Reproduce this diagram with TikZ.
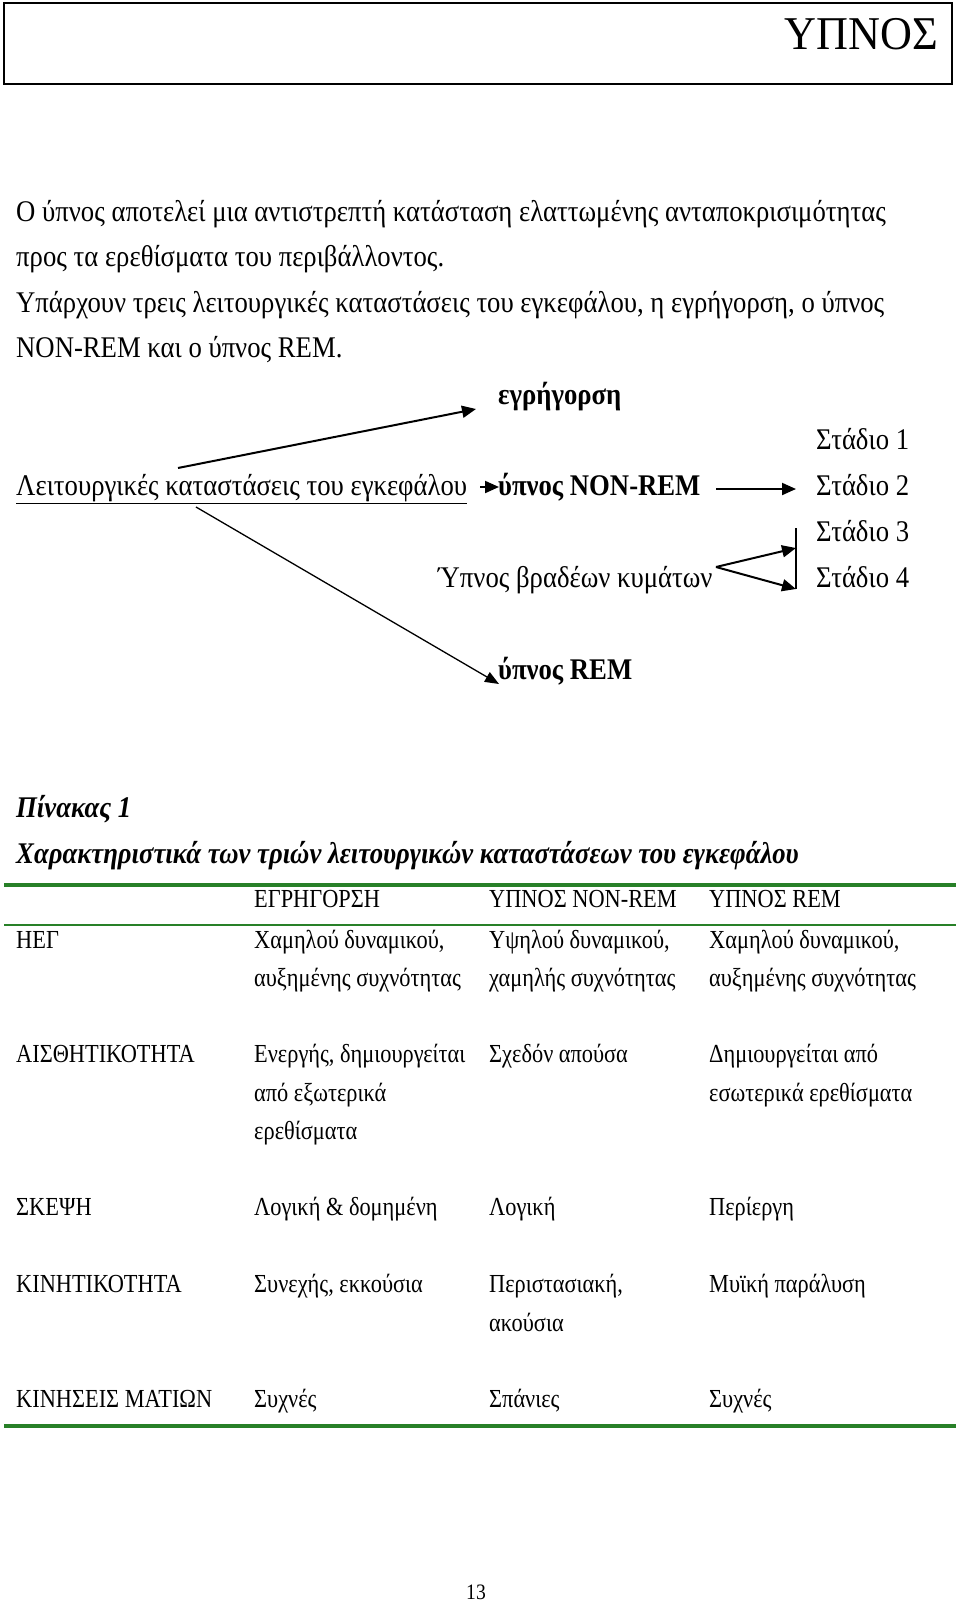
\documentclass[tikz,border=0pt]{standalone}
\usepackage{fontspec}
\setmainfont{Liberation Serif}[FakeStretch=0.89]
\newfontfamily\tabfont{Liberation Serif}[FakeStretch=0.86]
\newfontfamily\titlefont{Liberation Serif}[FakeStretch=0.94]
\usetikzlibrary{arrows.meta}
\definecolor{tgreen}{RGB}{40,128,40}
\begin{document}
\begin{tikzpicture}[x=1pt,y=-1pt,
  txt/.style={anchor=base west,inner sep=0pt,font=\fontsize{30}{36}\selectfont},
  btxt/.style={txt,font=\fontsize{30}{36}\selectfont\bfseries},
  bitxt/.style={txt,font=\fontsize{30}{36}\selectfont\bfseries\itshape},
  ttxt/.style={anchor=base west,inner sep=0pt,font=\tabfont\fontsize{26}{30}\selectfont},
  arr/.style={-{Triangle[length=14pt,width=12pt]},line width=2pt},
  tarr/.style={-{Triangle[length=14pt,width=11pt]},line width=1.3pt},
  gthick/.style={tgreen,line width=4pt},
  gthin/.style={tgreen,line width=2pt}]
\useasboundingbox (0,0) rectangle (960,1603);
% header
\draw[line width=1.5pt] (4,3) rectangle (952,84);
\node[anchor=base east,inner sep=0pt,font=\titlefont\fontsize{47}{50}\selectfont] (title) at (938,49) {ΥΠΝΟΣ};
% body text
\node[txt] (p1) at (16,221) {Ο ύπνος αποτελεί μια αντιστρεπτή κατάσταση ελαττωμένης ανταποκρισιμότητας};
\node[txt] (p2) at (16,266) {προς τα ερεθίσματα του περιβάλλοντος.};
\node[txt] (p3) at (16,312) {Υπάρχουν τρεις λειτουργικές καταστάσεις του εγκεφάλου, η εγρήγορση, ο ύπνος};
\node[txt] (p4) at (16,357) {NON-REM και ο ύπνος REM.};
% diagram
\node[btxt] (egr) at (498,404) {εγρήγορση};
\node[txt] (s1) at (816,449) {Στάδιο 1};
\node[txt] (lk) at (16,495) {\underline{Λειτουργικές καταστάσεις του εγκεφάλου}};
\node[btxt] (nrem) at (498,495) {ύπνος NON-REM};
\node[txt] (s2) at (816,495) {Στάδιο 2};
\node[txt] (s3) at (816,541) {Στάδιο 3};
\node[txt] (sw) at (438,587) {Ύπνος βραδέων κυμάτων};
\node[txt] (s4) at (816,587) {Στάδιο 4};
\node[btxt] (rem) at (498,679) {ύπνος REM};
\coordinate (a1s) at (178,468);
\coordinate (a1e) at (476,409);
\coordinate (a2s) at (480,487);
\coordinate (a2e) at (499,487);
\coordinate (a4s) at (716,489);
\coordinate (a4e) at (796,489);
\coordinate (a3s) at (196,507);
\coordinate (a3e) at (499,684);
\coordinate (apex) at (716,567);
\coordinate (bt) at (796,528);
\coordinate (bb) at (796,589);
\coordinate (t3) at (796,548);
\draw[arr] (a1s) -- (a1e);
\draw[arr] (a2s) -- (a2e);
\draw[arr] (a4s) -- (a4e);
\draw[tarr] (a3s) -- (a3e);
\draw[arr] (apex) -- (t3);
\draw[arr] (apex) -- (bb);
\draw[line width=1.5pt] (bt) -- (bb);
% table
\node[bitxt] (pin) at (16,817) {Πίνακας 1};
\node[bitxt] (cap) at (16,863) {Χαρακτηριστικά των τριών λειτουργικών καταστάσεων του εγκεφάλου};
\draw[gthick] (4,885) -- (956,885);
\node[ttxt] (h1) at (254,907) {ΕΓΡΗΓΟΡΣΗ};
\node[ttxt] (h2) at (489,907) {ΥΠΝΟΣ NON-REM};
\node[ttxt] (h3) at (709,907) {ΥΠΝΟΣ REM};
\draw[gthin] (4,925) -- (956,925);
\node[ttxt] (r1) at (16,948) {ΗΕΓ};
\node[ttxt] (c11a) at (254,948) {Χαμηλού δυναμικού,};
\node[ttxt] (c11b) at (254,986) {αυξημένης συχνότητας};
\node[ttxt] (c12a) at (489,948) {Υψηλού δυναμικού,};
\node[ttxt] (c12b) at (489,986) {χαμηλής συχνότητας};
\node[ttxt] (c13a) at (709,948) {Χαμηλού δυναμικού,};
\node[ttxt] (c13b) at (709,986) {αυξημένης συχνότητας};
\node[ttxt] (r2) at (16,1062) {ΑΙΣΘΗΤΙΚΟΤΗΤΑ};
\node[ttxt] (c21a) at (254,1062) {Ενεργής, δημιουργείται};
\node[ttxt] (c21b) at (254,1101) {από εξωτερικά};
\node[ttxt] (c21c) at (254,1139) {ερεθίσματα};
\node[ttxt] (c22) at (489,1062) {Σχεδόν απούσα};
\node[ttxt] (c23a) at (709,1062) {Δημιουργείται από};
\node[ttxt] (c23b) at (709,1101) {εσωτερικά ερεθίσματα};
\node[ttxt] (r3) at (16,1215) {ΣΚΕΨΗ};
\node[ttxt] (c31) at (254,1215) {Λογική \& δομημένη};
\node[ttxt] (c32) at (489,1215) {Λογική};
\node[ttxt] (c33) at (709,1215) {Περίεργη};
\node[ttxt] (r4) at (16,1292) {ΚΙΝΗΤΙΚΟΤΗΤΑ};
\node[ttxt] (c41) at (254,1292) {Συνεχής, εκκούσια};
\node[ttxt] (c42a) at (489,1292) {Περιστασιακή,};
\node[ttxt] (c42b) at (489,1331) {ακούσια};
\node[ttxt] (c43) at (709,1292) {Μυϊκή παράλυση};
\node[ttxt] (r5) at (16,1407) {ΚΙΝΗΣΕΙΣ ΜΑΤΙΩΝ};
\node[ttxt] (c51) at (254,1407) {Συχνές};
\node[ttxt] (c52) at (489,1407) {Σπάνιες};
\node[ttxt] (c53) at (709,1407) {Συχνές};
\draw[gthick] (4,1426) -- (956,1426);
\node[anchor=base,inner sep=0pt,font=\fontsize{22}{26}\selectfont] (pg) at (476,1599) {13};
\end{tikzpicture}
\end{document}
